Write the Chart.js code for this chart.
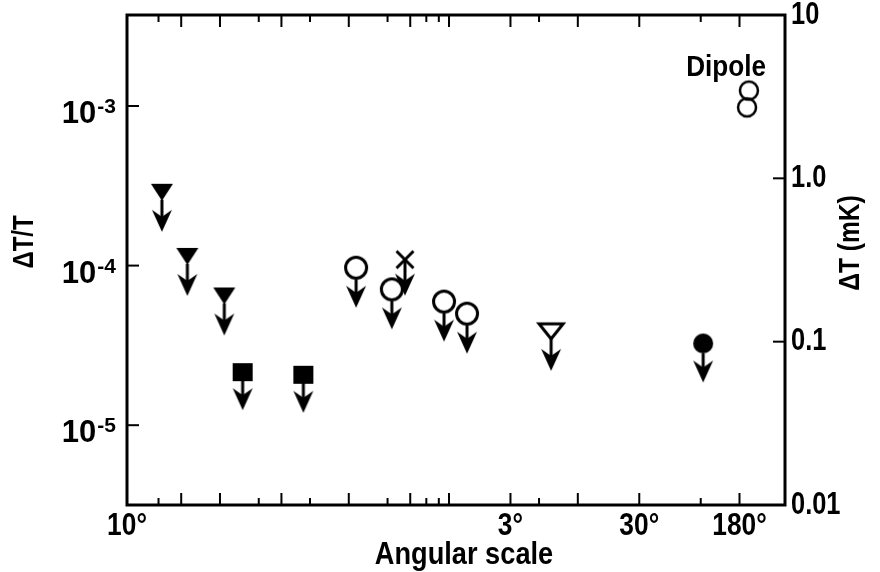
<!DOCTYPE html>
<html>
<head>
<meta charset="utf-8">
<title>Angular scale</title>
<script src="https://cdn.jsdelivr.net/npm/chart.js@4.4.1/dist/chart.umd.min.js"></script>
<style>
  html, body { margin: 0; padding: 0; background: #fff; }
  #wrap { width: 880px; height: 572px; }
</style>
</head>
<body>
<div id="wrap"><canvas id="chart" width="880" height="572"></canvas></div>
<script>
// ================= DATA =================
// x = angular scale in degrees, y = ΔT/T upper limit
const filledTriAngle = [0.0059, 0.0093, 0.018];
const filledTriDT = [2.9e-4, 1.15e-4, 6.5e-5];

const squareAngle = [0.025, 0.074];
const squareDT = [2.15e-5, 2.07e-5];

const openCircleAngle = [0.19, 0.36, 0.915, 1.38];
const openCircleDT = [9.7e-5, 7.1e-5, 5.95e-5, 5.0e-5];

const crossAngle = [0.455];
const crossDT = [1.09e-4];

const openTriAngle = [6.2];
const openTriDT = [3.9e-5];

const filledCircleAngle = [94];
const filledCircleDT = [3.25e-5];

const dipoleAngle = [213, 206];
const dipoleDT = [1.25e-3, 9.8e-4];

// ================= AXES =================
const X_MIN = Math.pow(10, -2.5);
const X_MAX = 406;
const Y_MIN = Math.pow(10, -5.5);
const Y_MAX = Math.pow(10, -2.43);

const xTickValues = [X_MIN, 3, 30, 180];
const xTickLabels = ["10°", "3°", "30°", "180°"];
const xMajorTicks = [30 / 3600, 1 / 60, 3 / 60, 10 / 60, 30 / 60, 1, 3, 10, 30, 180];
const xMinorTicks = [20 / 3600, 2 / 60, 5 / 60, 20 / 60, 40 / 60, 50 / 60, 5, 90];

const leftTickExp = [-3, -4, -5];
const rightTickValues = [10, 1, 0.1, 0.01];
const rightTickLabels = ["10", "1.0", "0.1", "0.01"];

const FONT = '"Liberation Sans", Arial, sans-serif';

// ================= HELPERS =================
const pts = (xs, ys) => xs.map((x, i) => ({ x, y: ys[i] }));

// condensed text: squeeze horizontally along the text direction
function condText(ctx, text, x, y, size, align, sx, rot) {
    ctx.save();
    ctx.translate(x, y);
    if (rot) ctx.rotate(rot);
    ctx.scale(sx, 1);
    ctx.font = "bold " + size + "px " + FONT;
    ctx.textAlign = align;
    ctx.fillText(text, 0, 0);
    ctx.restore();
}

// marker drawn at canvas centre, arrow hanging below it
function makeMarker(kind, tip) {
    const w = 34;
    const h = 2 * (tip + 4);
    const c = document.createElement("canvas");
    c.width = w;
    c.height = h;
    const g = c.getContext("2d");
    g.translate(w / 2, h / 2);
    g.fillStyle = "#000";
    g.strokeStyle = "#000";
    g.lineWidth = 3;
    g.lineJoin = "miter";

    let shaftStart = 0;

    switch (kind) {
        case "triDown":
            g.beginPath();
            g.moveTo(-11, -8);
            g.lineTo(11, -8);
            g.lineTo(0, 9);
            g.closePath();
            g.fill();
            shaftStart = 8;
            break;
        case "square":
            g.fillRect(-10, -9, 20, 18);
            shaftStart = 9;
            break;
        case "circleOpen":
            g.beginPath();
            g.arc(0, 0, 10.5, 0, Math.PI * 2);
            g.stroke();
            shaftStart = 12;
            break;
        case "cross":
            g.beginPath();
            g.moveTo(-8.5, -8.5); g.lineTo(8.5, 8.5);
            g.moveTo(8.5, -8.5); g.lineTo(-8.5, 8.5);
            g.stroke();
            shaftStart = 0;
            break;
        case "triOpen":
            g.beginPath();
            g.moveTo(-12, -7);
            g.lineTo(12, -7);
            g.lineTo(0, 8);
            g.closePath();
            g.stroke();
            shaftStart = 8;
            break;
        case "circleFilled":
            g.beginPath();
            g.arc(0, 0, 10, 0, Math.PI * 2);
            g.fill();
            shaftStart = 10;
            break;
        case "dipole":
            g.lineWidth = 2.5;
            g.beginPath();
            g.arc(0, 0, 9, 0, Math.PI * 2);
            g.stroke();
            return c;
    }

    // shaft
    g.beginPath();
    g.moveTo(0, shaftStart);
    g.lineTo(0, tip - 12);
    g.stroke();

    // arrow head
    g.beginPath();
    g.moveTo(0, tip);
    g.lineTo(-10, tip - 22);
    g.lineTo(0, tip - 15);
    g.lineTo(10, tip - 22);
    g.closePath();
    g.fill();

    return c;
}

// ================= FRAME / TEXT PLUGIN =================
const framePlugin = {
    id: "frame",
    afterDraw(chart) {
        const { ctx, chartArea: a, scales } = chart;
        ctx.save();
        ctx.strokeStyle = "#000";
        ctx.fillStyle = "#000";

        // box
        ctx.lineWidth = 3;
        ctx.strokeRect(a.left, a.top, a.right - a.left, a.bottom - a.top);

        // x ticks, bottom and top, inward
        ctx.lineWidth = 2;
        const xTick = (v, len) => {
            const x = scales.x.getPixelForValue(v);
            ctx.beginPath();
            ctx.moveTo(x, a.bottom);
            ctx.lineTo(x, a.bottom - len);
            ctx.moveTo(x, a.top);
            ctx.lineTo(x, a.top + len);
            ctx.stroke();
        };
        xMajorTicks.forEach(v => xTick(v, 12));
        xMinorTicks.forEach(v => xTick(v, 7));

        // left ticks
        leftTickExp.forEach(e => {
            const y = scales.y.getPixelForValue(Math.pow(10, e));
            ctx.beginPath();
            ctx.moveTo(a.left, y);
            ctx.lineTo(a.left + 12, y);
            ctx.stroke();
        });

        // right ticks
        rightTickValues.forEach(v => {
            const y = scales.yRight.getPixelForValue(v);
            ctx.beginPath();
            ctx.moveTo(a.right, y);
            ctx.lineTo(a.right - 12, y);
            ctx.stroke();
        });

        ctx.textBaseline = "alphabetic";

        // x tick labels
        xTickValues.forEach((v, i) => {
            const x = scales.x.getPixelForValue(v);
            condText(ctx, xTickLabels[i], x, a.bottom + 30, 31, "center", 0.85);
        });

        // left tick labels 10^e
        leftTickExp.forEach(e => {
            const y = scales.y.getPixelForValue(Math.pow(10, e));
            const right = a.left - 11;
            ctx.textAlign = "right";
            ctx.font = "bold 21px " + FONT;
            const sup = String(e);
            const supW = ctx.measureText(sup).width;
            ctx.fillText(sup, right, y + 7);
            ctx.font = "bold 31px " + FONT;
            ctx.fillText("10", right - supW - 1, y + 17);
        });

        // right tick labels
        ctx.textBaseline = "middle";
        rightTickValues.forEach((v, i) => {
            const y = scales.yRight.getPixelForValue(v);
            condText(ctx, rightTickLabels[i], a.right + 6, y, 31, "left", 0.82);
        });

        // axis titles
        ctx.textBaseline = "alphabetic";
        condText(ctx, "Angular scale", (a.left + a.right) / 2 + 8, a.bottom + 59, 32, "center", 0.85);

        ctx.textBaseline = "middle";
        condText(ctx, "ΔT/T", 25, 242, 30, "center", 0.8, -Math.PI / 2);
        condText(ctx, "ΔT (mK)", 851, 243, 30, "center", 0.82, -Math.PI / 2);

        // dipole label
        const dip = chart.getDatasetMeta(chart.data.datasets.length - 1).data[0];
        ctx.textBaseline = "alphabetic";
        condText(ctx, "Dipole", dip.x + 17, dip.y - 15, 30, "right", 0.87);

        ctx.restore();
    }
};

// ================= CHART =================
function dataset(xs, ys, marker) {
    return {
        data: pts(xs, ys),
        pointStyle: marker,
        pointRadius: 12,
        clip: false,
        showLine: false
    };
}

const ctx = document.getElementById("chart").getContext("2d");

new Chart(ctx, {
    type: "scatter",
    data: {
        datasets: [
            dataset(filledTriAngle, filledTriDT, makeMarker("triDown", 40)),
            dataset(squareAngle, squareDT, makeMarker("square", 38)),
            dataset(openCircleAngle, openCircleDT, makeMarker("circleOpen", 40)),
            dataset(crossAngle, crossDT, makeMarker("cross", 36)),
            dataset(openTriAngle, openTriDT, makeMarker("triOpen", 40)),
            dataset(filledCircleAngle, filledCircleDT, makeMarker("circleFilled", 39)),
            dataset(dipoleAngle, dipoleDT, makeMarker("dipole", 12))
        ]
    },
    plugins: [framePlugin],
    options: {
        responsive: false,
        animation: false,
        layout: { padding: { left: 127, right: 95, top: 15, bottom: 67 } },
        plugins: {
            legend: { display: false },
            tooltip: { enabled: false }
        },
        scales: {
            x: { type: "logarithmic", min: X_MIN, max: X_MAX, display: false },
            y: { type: "logarithmic", min: Y_MIN, max: Y_MAX, display: false },
            yRight: { type: "logarithmic", position: "right", min: 0.01, max: 10, display: false }
        }
    }
});
</script>
</body>
</html>
